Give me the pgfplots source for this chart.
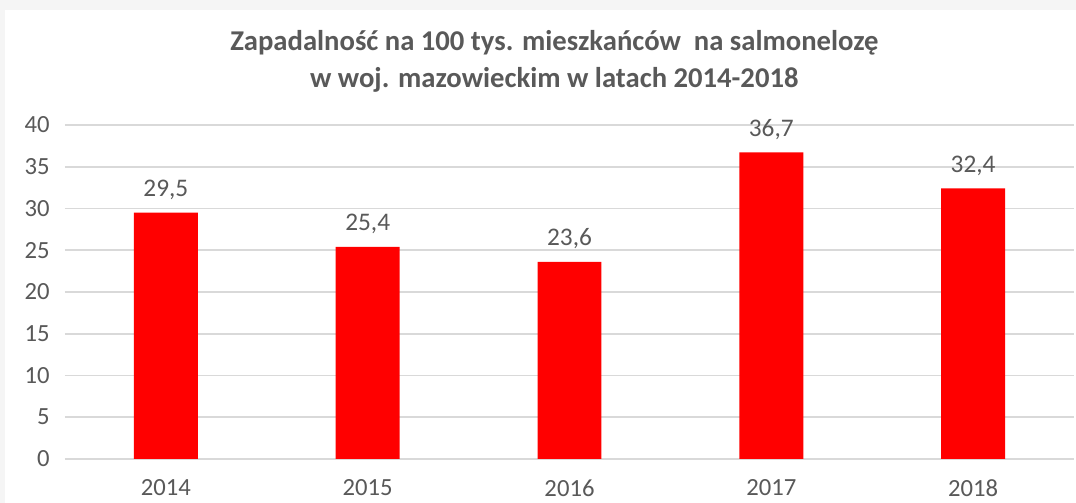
\documentclass[border=0pt]{standalone}
\usepackage{fontspec}
\setmainfont{Carlito}
\usepackage{pgfplots}
\pgfplotsset{compat=1.18}
\usetikzlibrary{backgrounds}
\definecolor{txt}{HTML}{595959}
\definecolor{gridc}{HTML}{D9D9D9}
\definecolor{framec}{HTML}{F5F5F5}
\begin{document}
\begin{tikzpicture}
\begin{axis}[
  scale only axis,
  width=757pt, height=250.5pt,
  ymin=0, ymax=40, ytick={0,5,...,40},
  xmin=-0.5, xmax=4.5,
  xtick=data, xticklabels={2014,2015,2016,2017,2018},
  ybar, bar width=48pt,
  axis line style={draw=none},
  major tick length=0pt,
  ymajorgrids, grid style={gridc, line width=1.3pt},
  ticklabel style={font=\fontsize{18.5}{21}\selectfont, text=txt},
  /pgf/number format/assume math mode=true,
  yticklabel style={xshift=-8pt},
  xticklabel style={yshift=-12pt},
  nodes near coords={\pgfmathprintnumber[fixed,fixed zerofill,precision=1,use comma]{\pgfplotspointmeta}},
  nodes near coords style={font=\fontsize{19}{21}\selectfont, text=txt, yshift=6pt},
  clip=false,
]
\addplot[fill=red, draw=none] coordinates {
  (0,29.5) (1,25.4) (2,23.6) (3,36.7) (4,32.4)};
\node[font=\fontsize{21.5}{25}\selectfont\bfseries, text=txt] at (rel axis cs:0.485,1) [yshift=61.5pt]
  {Zapadalność na 100 tys. mieszkańców\ \ na salmonelozę};
\node[font=\fontsize{21.5}{25}\selectfont\bfseries, text=txt] at (rel axis cs:0.485,1) [yshift=34pt]
  {w woj. mazowieckim w latach 2014-2018};
\end{axis}
\pgfresetboundingbox
\path (current axis.south west) ++(-48.75pt,-33pt) coordinate (BL);
\path (current axis.north east) ++(1.5pt,93.75pt) coordinate (TR);
\begin{scope}[on background layer]
  \fill[framec] (BL) rectangle (TR);
  \fill[white] (BL) ++(3.75pt,0) rectangle ([yshift=-7.5pt]TR);
\end{scope}
\useasboundingbox (BL) rectangle (TR);
\end{tikzpicture}
\end{document}
